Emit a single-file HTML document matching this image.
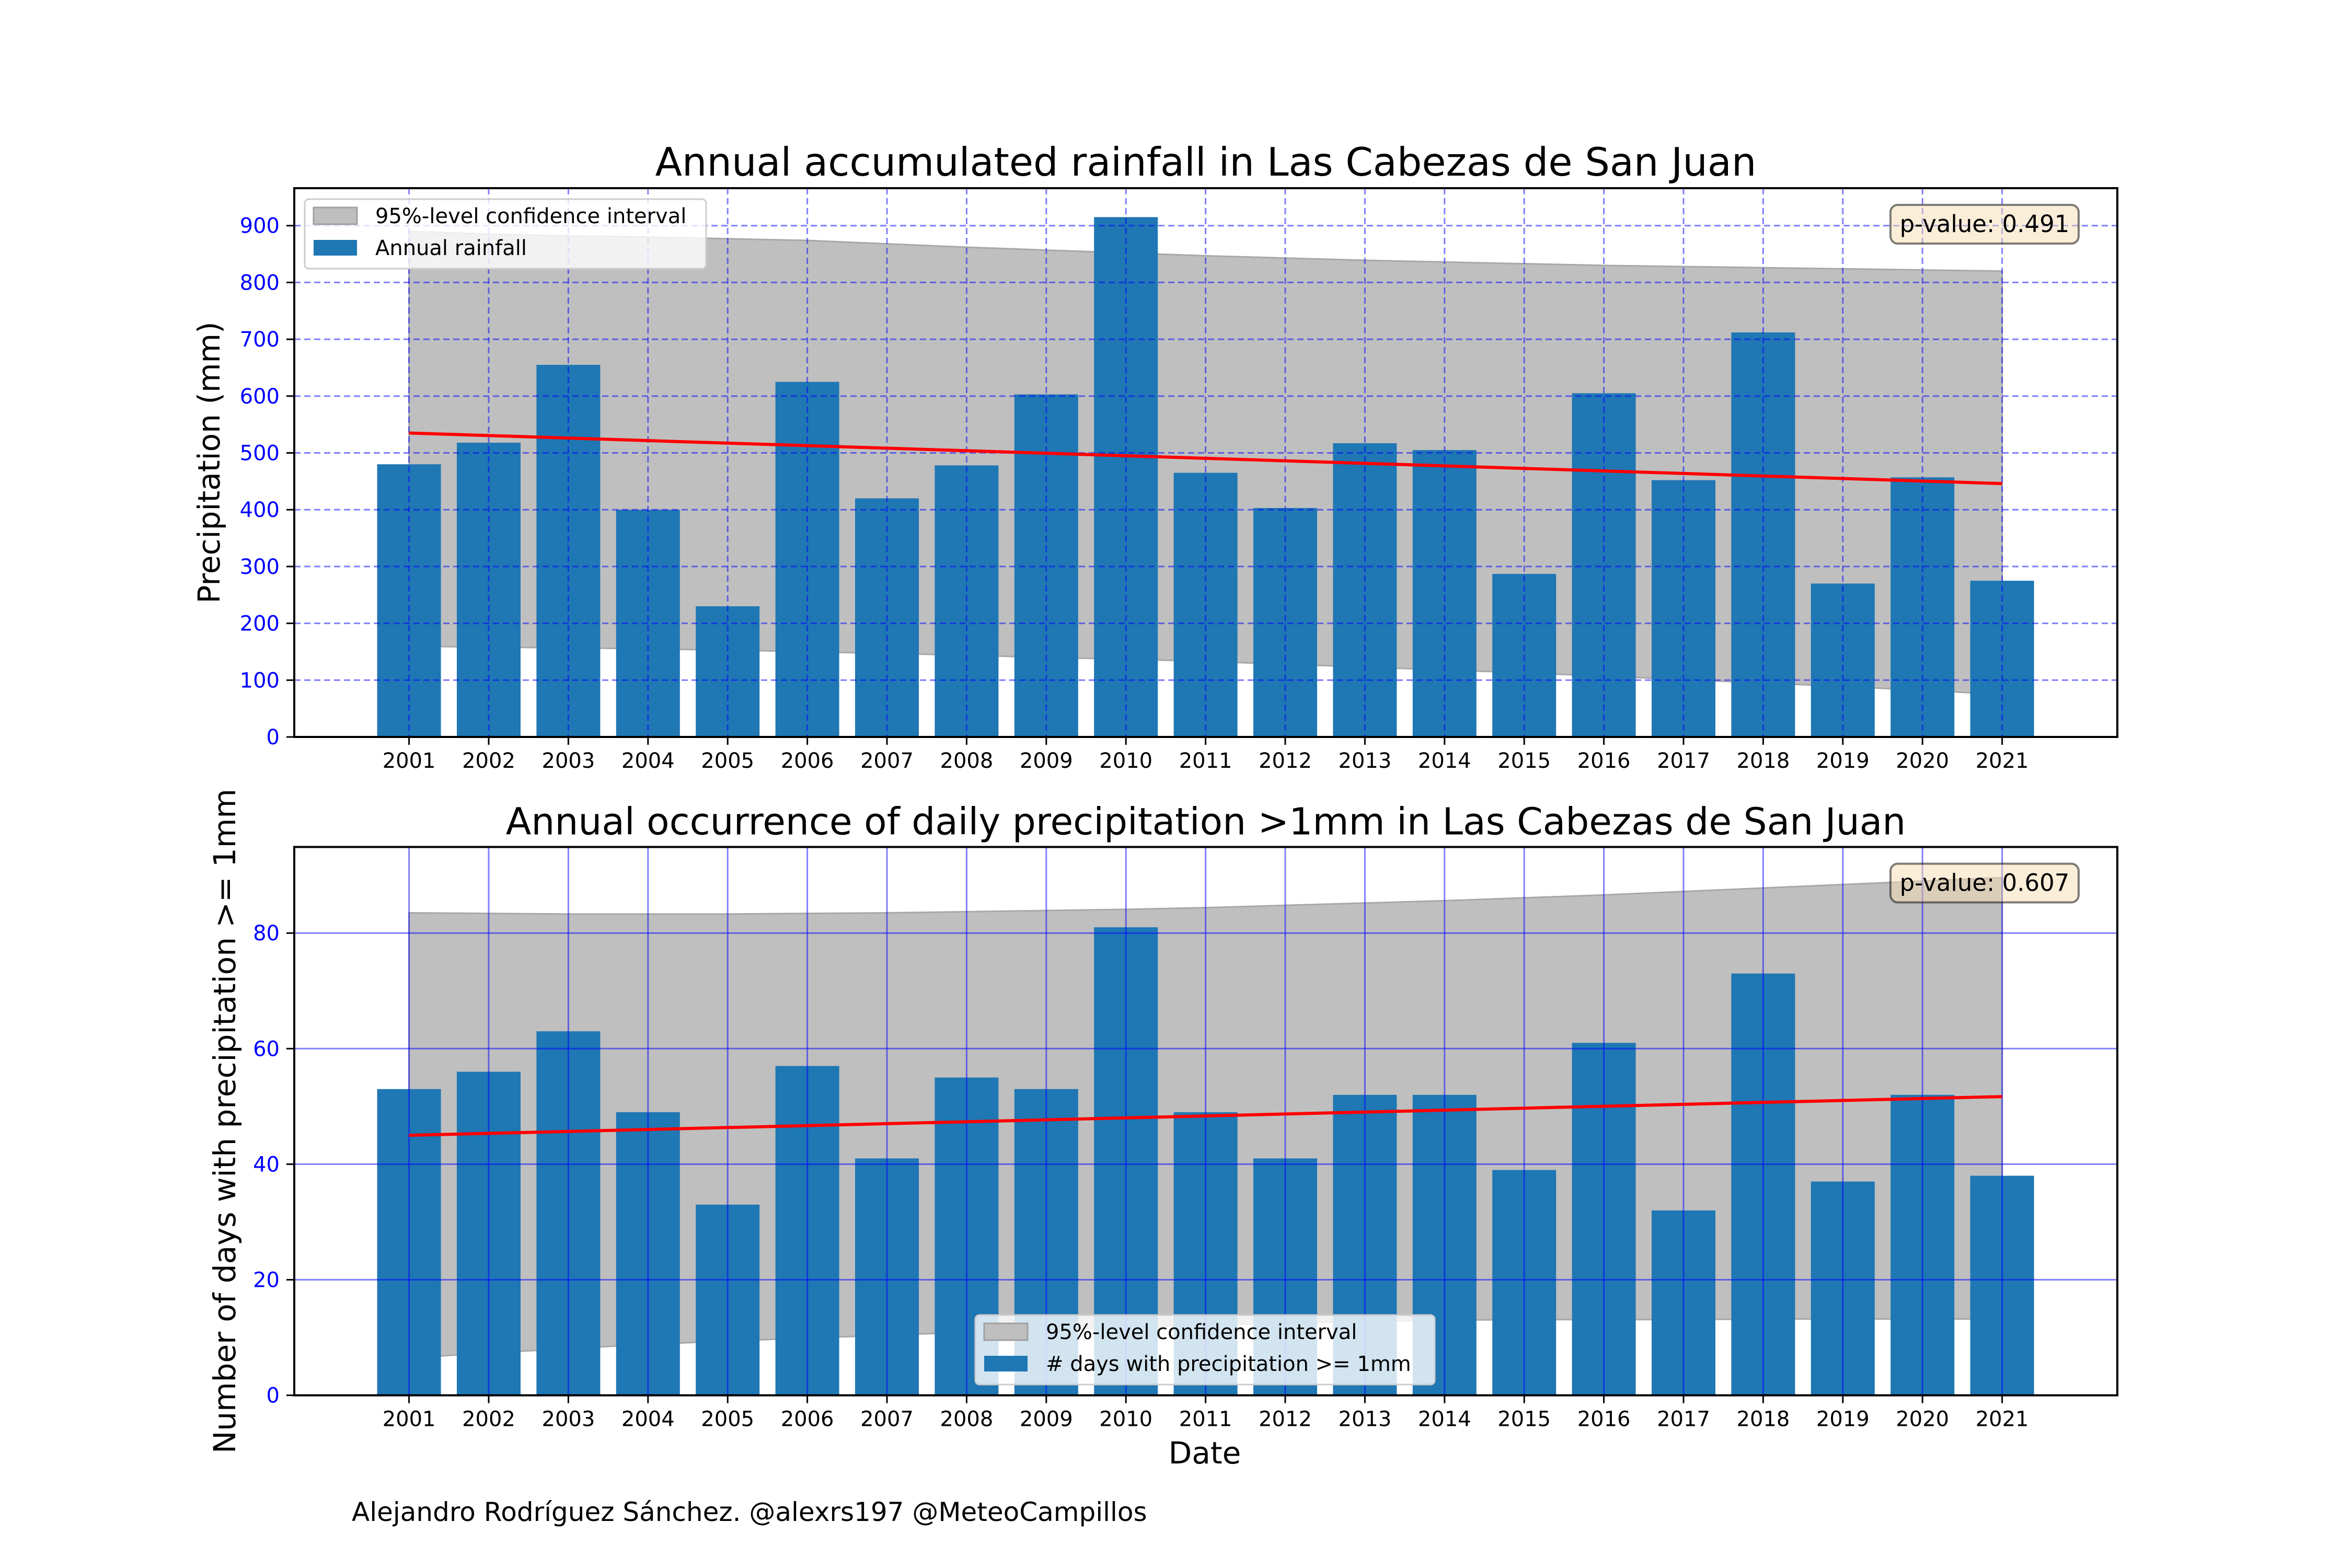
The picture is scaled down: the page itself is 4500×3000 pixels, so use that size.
<!DOCTYPE html>
<html><head><meta charset="utf-8"><style>
html,body{margin:0;padding:0;background:#fff;}
svg{display:block;font-family:"DejaVu Sans","Liberation Sans",sans-serif;}
</style></head><body>
<svg id="chart" width="4500" height="3000" viewBox="0 0 4500 3000" xmlns="http://www.w3.org/2000/svg"></svg>
<script>
const years = [2001,2002,2003,2004,2005,2006,2007,2008,2009,2010,2011,2012,2013,2014,2015,2016,2017,2018,2019,2020,2021];
const rainfall = [480,518,655,400,230,625,420,478,603,915,465,403,517,505,287,605,452,712,270,457,275];
const rainCIUpper = [890,885,882,880,877,874,868,862,857,852,847,843,839,836,833,830,828,826,824,822,820];
const rainCILower = [160,158,157,155,153,150,147,144,140,137,133,128,123,118,113,107,101,95,89,82,75];
const rainTrend = [535,446];
const rainTicks = [0,100,200,300,400,500,600,700,800,900];
const days = [53,56,63,49,33,57,41,55,53,81,49,41,52,52,39,61,32,73,37,52,38];
const daysCIUpper = [83.5,83.4,83.3,83.3,83.3,83.4,83.5,83.7,83.9,84.1,84.4,84.8,85.2,85.6,86.1,86.6,87.2,87.8,88.4,89.0,89.6];
const daysCILower = [6.5,7.3,8.1,8.8,9.4,9.9,10.4,10.9,11.4,11.8,12.2,12.5,12.8,13.0,13.1,13.1,13.1,13.2,13.2,13.2,13.2];
const daysTrend = [45.0,51.7];
const daysTicks = [0,20,40,60,80];

const NS="http://www.w3.org/2000/svg";
const svg=document.getElementById('chart');
function el(tag,attrs,parent,text){const e=document.createElementNS(NS,tag);for(const k in attrs)e.setAttribute(k,attrs[k]);if(text!==undefined)e.textContent=text;(parent||svg).appendChild(e);return e;}

function panel(cfg){
  const L=563,R=4051,T=cfg.top,B=cfg.bottom;
  const x0=782.6,step=152.4;
  const xs=i=>x0+i*step;
  const ys=v=>B-(v/cfg.ymax)*(B-T);
  const g=el('g',{});
  
  
  let d='';
  cfg.up.forEach((v,i)=>{d+=(i?'L':'M')+xs(i)+','+ys(v);});
  for(let i=cfg.lo.length-1;i>=0;i--)d+='L'+xs(i)+','+ys(cfg.lo[i]);
  const band=el('path',{d:d+'Z',fill:'#bfbfbf',stroke:'#a8a8a8','stroke-width':3},g);
  
  
  cfg.vals.forEach((v,i)=>{
    const r=el('rect',{x:xs(i)-61,y:ys(v),width:122,height:B-ys(v),fill:'#1f77b4'},g);
    
    
  });
  const dash=cfg.dashed?'12,7':'none';
  cfg.ticks.forEach(t=>{
    const gl=el('line',{x1:L,x2:R,y1:ys(t),y2:ys(t),stroke:'rgba(0,0,255,0.5)','stroke-width':3,'stroke-dasharray':dash},g);
    
    
  });
  years.forEach((y,i)=>{
    const gl=el('line',{x1:xs(i),x2:xs(i),y1:T,y2:B,stroke:'rgba(0,0,255,0.5)','stroke-width':3,'stroke-dasharray':dash},g);
    
    
  });
  const tl=el('line',{x1:xs(0),y1:ys(cfg.trend[0]),x2:xs(years.length-1),y2:ys(cfg.trend[1]),stroke:'#ff0000','stroke-width':6},g);
  
  
  const fr=el('rect',{x:L,y:T,width:R-L,height:B-T,fill:'none',stroke:'#000','stroke-width':4},g);
  
  
  cfg.ticks.forEach(t=>{
    el('line',{x1:L-15,x2:L,y1:ys(t),y2:ys(t),stroke:'#000','stroke-width':3},g);
    const tx=el('text',{x:L-28,y:ys(t)+14,'text-anchor':'end','font-size':40,fill:'#0000ff'},g,String(t));
    
    
  });
  years.forEach((y,i)=>{
    el('line',{x1:xs(i),x2:xs(i),y1:B,y2:B+15,stroke:'#000','stroke-width':3},g);
    const tx=el('text',{x:xs(i),y:B+59,'text-anchor':'middle','font-size':40,fill:'#000'},g,String(y));
    
    
  });
  const tt=el('text',{x:(L+R)/2,y:T-24,'text-anchor':'middle','font-size':cfg.titleSize,fill:'#000'},g,cfg.title);
  
  
  const yl=el('text',{x:0,y:0,'text-anchor':'middle','font-size':58,fill:'#000',transform:`translate(${cfg.ylx},${(T+B)/2}) rotate(-90)`},g,cfg.ylabel);
  
  
  const pb=el('rect',{x:3617,y:T+32,width:360,height:74,rx:14,fill:'#f5deb3','fill-opacity':0.5,stroke:'#000','stroke-opacity':0.5,'stroke-width':4},g);
  
  
  const pt=el('text',{x:3797,y:T+84,'text-anchor':'middle','font-size':45,fill:'#000'},g,cfg.pval);
  
  
  const lg=el('g',{},g);
  
  
  const lx=cfg.legX,ly=cfg.legY,lw=cfg.legW;
  el('rect',{x:lx,y:ly,width:lw,height:133,rx:8,fill:'#fff','fill-opacity':0.8,stroke:'#cccccc','stroke-width':3},lg);
  el('rect',{x:lx+17,y:ly+16,width:83,height:32,fill:'#bfbfbf',stroke:'#a0a0a0','stroke-width':3},lg);
  const e1=el('text',{x:lx+135,y:ly+46,'font-size':40,fill:'#000'},lg,'95%-level confidence interval');
  
  
  el('rect',{x:lx+17,y:ly+78,width:83,height:30,fill:'#1f77b4'},lg);
  const e2=el('text',{x:lx+135,y:ly+107,'font-size':40,fill:'#000'},lg,cfg.legText);
  
  
}

panel({name:'rainfall-chart',top:360,bottom:1410,ymax:966,vals:rainfall,up:rainCIUpper,lo:rainCILower,trend:rainTrend,ticks:rainTicks,dashed:true,titleSize:75,
  title:'Annual accumulated rainfall in Las Cabezas de San Juan',ylabel:'Precipitation (mm)',ylx:420,pval:'p-value: 0.491',
  legX:583,legY:381,legW:768,legText:'Annual rainfall'});
panel({name:'days-chart',top:1620.5,bottom:2669.6,ymax:94.9,vals:days,up:daysCIUpper,lo:daysCILower,trend:daysTrend,ticks:daysTicks,dashed:false,titleSize:71,
  title:'Annual occurrence of daily precipitation >1mm in Las Cabezas de San Juan',ylabel:'Number of days with precipitation >= 1mm',ylx:450,pval:'p-value: 0.607',
  legX:1866,legY:2516,legW:879,legText:'# days with precipitation >= 1mm'});

const xl=el('text',{x:2305,y:2800,'text-anchor':'middle','font-size':58,fill:'#000'},svg,'Date');


const ft=el('text',{x:673,y:2910,'font-size':50,fill:'#000'},svg,'Alejandro Rodríguez Sánchez. @alexrs197 @MeteoCampillos');


</script>
</body></html>
